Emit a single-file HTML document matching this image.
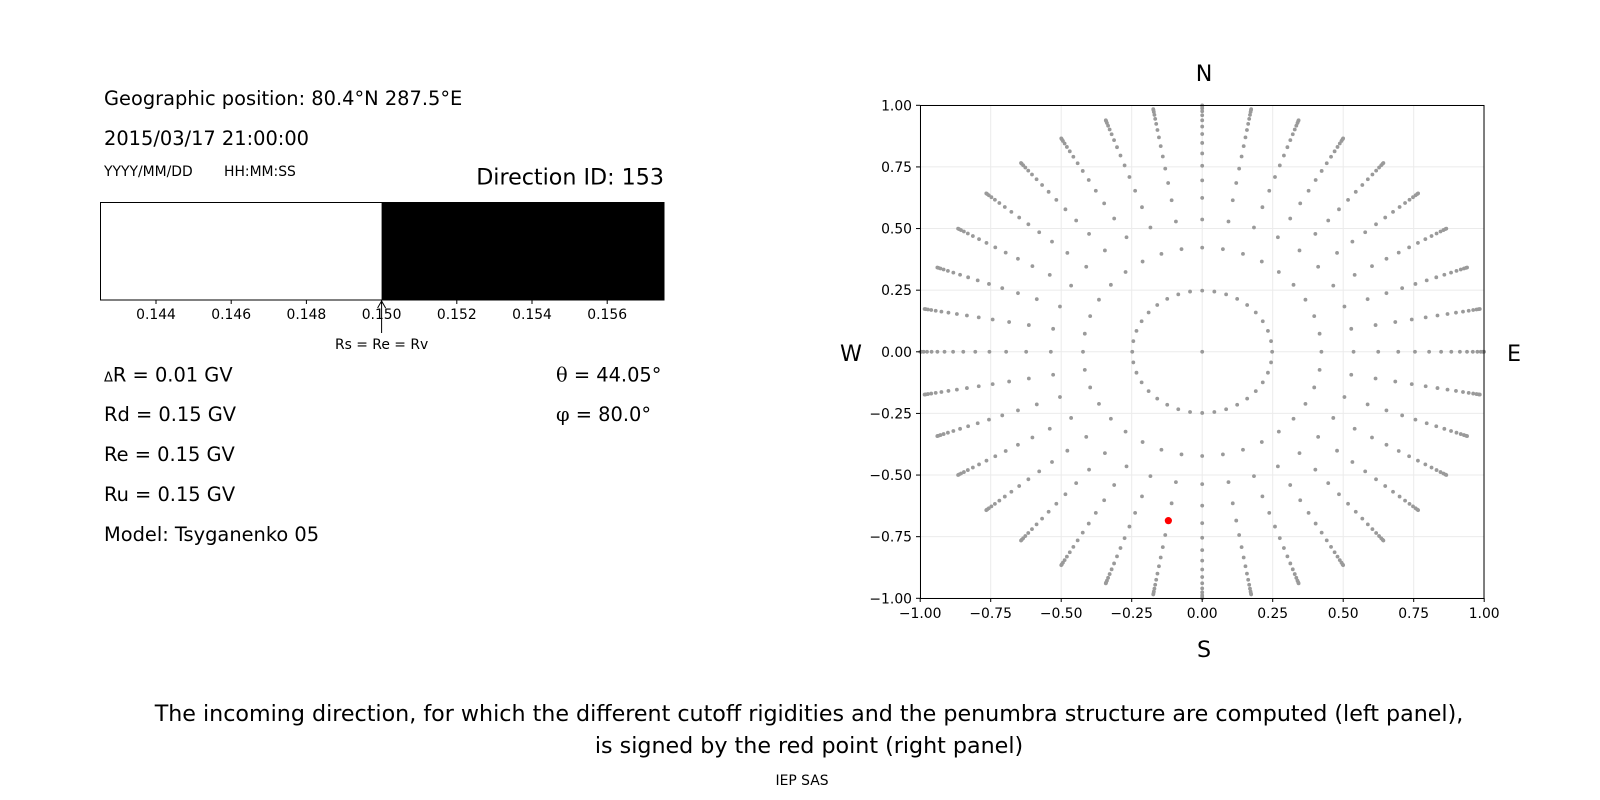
<!DOCTYPE html>
<html><head><meta charset="utf-8"><style>
html,body{margin:0;padding:0;background:#fff}
svg{display:block}
text{font-family:"DejaVu Sans","Liberation Sans",sans-serif;fill:#000}
</style></head><body>
<svg id="s" width="1600" height="800" viewBox="0 0 1600 800" xmlns="http://www.w3.org/2000/svg">
<rect width="1600" height="800" fill="#fff"/>
<!-- Left panel -->
<text x="104" y="105" font-size="19.4">Geographic position: 80.4°N 287.5°E</text>
<text x="104" y="145" font-size="19.4">2015/03/17 21:00:00</text>
<text x="104" y="176" font-size="13.9">YYYY/MM/DD</text>
<text x="224" y="176" font-size="13.9">HH:MM:SS</text>
<text x="664" y="184.5" font-size="22.2" text-anchor="end">Direction ID: 153</text>
<rect x="381.6" y="202" width="282.4" height="98" fill="#000"/>
<rect x="100.5" y="202.5" width="563.5" height="97.5" fill="none" stroke="#000" stroke-width="1"/>
<g id="bt" font-size="13.9" text-anchor="middle"></g>
<line x1="381.6" y1="333" x2="381.6" y2="302" stroke="#000" stroke-width="1"/>
<path d="M377.6,308 L381.6,301 L385.6,308" fill="none" stroke="#000" stroke-width="1"/>
<text x="381.6" y="349" font-size="13.9" text-anchor="middle">Rs = Re = Rv</text>
<text x="104" y="381.5" font-size="19.4"><tspan font-size="13">Δ</tspan>R = 0.01 GV</text>
<text x="104" y="421" font-size="19.4">Rd = 0.15 GV</text>
<text x="104" y="461" font-size="19.4">Re = 0.15 GV</text>
<text x="104" y="501" font-size="19.4">Ru = 0.15 GV</text>
<text x="104" y="541" font-size="19.4">Model: Tsyganenko 05</text>
<text x="556" y="381.5" font-size="19.4"><tspan font-family="DejaVu Serif,serif">θ</tspan> = 44.05°</text>
<text x="556" y="421" font-size="19.4"><tspan font-family="DejaVu Serif,serif">φ</tspan> = 80.0°</text>
<!-- Right panel -->
<g id="grid"></g>
<g id="pts"></g>
<rect x="920.5" y="105.5" width="563.5" height="493" fill="none" stroke="#000" stroke-width="1"/>
<g id="ticks" font-size="13.9"></g>
<text x="1204" y="81" font-size="22.2" text-anchor="middle">N</text>
<text x="1204" y="657" font-size="22.2" text-anchor="middle">S</text>
<text x="851" y="361" font-size="22.2" text-anchor="middle">W</text>
<text x="1514" y="361" font-size="22.2" text-anchor="middle">E</text>
<text x="809" y="721" font-size="22.2" text-anchor="middle">The incoming direction, for which the different cutoff rigidities and the penumbra structure are computed (left panel),</text>
<text x="809" y="753" font-size="22.2" text-anchor="middle">is signed by the red point (right panel)</text>
<text x="802" y="785" font-size="13.9" text-anchor="middle">IEP SAS</text>
</svg>
<script>
var NS="http://www.w3.org/2000/svg";
function el(p,t,a,txt){var e=document.createElementNS(NS,t);for(var k in a)e.setAttribute(k,a[k]);if(txt!==undefined)e.textContent=txt;p.appendChild(e);return e;}
// bar ticks
var bt=document.getElementById("bt");
[0.144,0.146,0.148,0.150,0.152,0.154,0.156].forEach(function(v){
 var x=381.6+(v-0.150)/0.002*75.2;
 el(bt,"line",{x1:x,y1:300,x2:x,y2:304,stroke:"#000","stroke-width":1});
 el(bt,"text",{x:x,y:319},v.toFixed(3));
});
var cx=1202.2,cy=351.8,sx=282,sy=246.5;
var g=document.getElementById("grid"),tk=document.getElementById("ticks");
for(var i=-4;i<=4;i++){
 var v=i*0.25,x=cx+v*sx,y=cy-v*sy,lab=(v<0?"\u2212":"")+Math.abs(v).toFixed(2);
 el(g,"line",{x1:x,y1:105,x2:x,y2:598,stroke:"#ebebeb","stroke-width":1});
 el(g,"line",{x1:920,y1:y,x2:1484,y2:y,stroke:"#ebebeb","stroke-width":1});
 el(tk,"line",{x1:x,y1:598,x2:x,y2:602,stroke:"#000","stroke-width":1});
 el(tk,"text",{x:x,y:618,"text-anchor":"middle"},lab);
 el(tk,"line",{x1:916,y1:y,x2:920,y2:y,stroke:"#000","stroke-width":1});
 el(tk,"text",{x:912,y:y+5,"text-anchor":"end"},lab);
}
var p=document.getElementById("pts");
el(p,"circle",{cx:cx,cy:cy,r:1.9,fill:"#9a9a9a"});
for(var k=0;k<16;k++){
 var c=1-(k+0.5)/16,r=Math.sqrt(1-c*c);
 for(var a=0;a<36;a++){
  var an=a*10*Math.PI/180;
  el(p,"circle",{cx:cx+r*Math.cos(an)*sx,cy:cy-r*Math.sin(an)*sy,r:1.9,fill:"#9a9a9a"});
 }
}
el(p,"circle",{cx:cx-0.12*sx,cy:cy+0.685*sy,r:3.6,fill:"#ff0000"});
</script>
</body></html>
